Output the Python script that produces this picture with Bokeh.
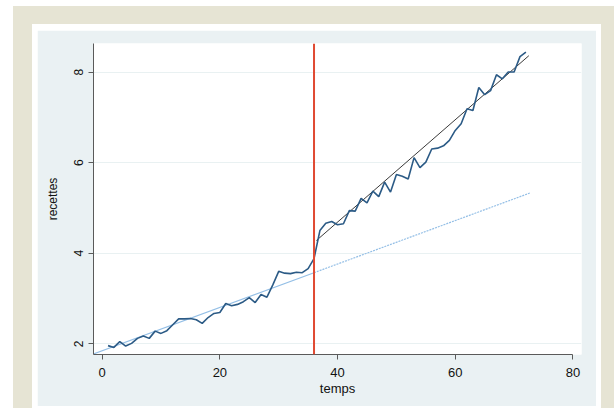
from bokeh.plotting import figure
from bokeh.models import Span, Range1d, FixedTicker
from bokeh.embed import file_html
from bokeh.resources import INLINE

# ---- data ----
temps = list(range(1, 73))
recettes = [1.96, 1.92, 2.05, 1.95, 2.01, 2.12, 2.17, 2.12, 2.28, 2.23, 2.29, 2.42,
            2.55, 2.55, 2.56, 2.53, 2.45, 2.58, 2.67, 2.69, 2.89, 2.84, 2.87, 2.93,
            3.02, 2.91, 3.09, 3.03, 3.30, 3.60, 3.56, 3.55, 3.58, 3.57, 3.66, 3.88,
            4.50, 4.66, 4.70, 4.63, 4.65, 4.94, 4.93, 5.21, 5.11, 5.37, 5.25, 5.57,
            5.35, 5.74, 5.70, 5.64, 6.11, 5.89, 6.01, 6.30, 6.32, 6.37, 6.49, 6.71,
            6.86, 7.19, 7.15, 7.66, 7.50, 7.59, 7.94, 7.85, 8.00, 8.00, 8.34, 8.44]

# linear trend of the pre-period (solid) and its extrapolation (dashed)
trend_pre_t = [-2.0, 36.0]
trend_pre_y = [1.75, 3.57]
trend_post_t = [36.0, 72.7]
trend_post_y = [3.57, 5.33]

# linear fit of the post-period
fit_post_t = [36.4, 72.5]
fit_post_y = [4.28, 8.36]

break_t = 36
x_ticks = [0, 20, 40, 60, 80]
y_ticks = [2, 4, 6, 8]

BEIGE = "#e6e4d4"
PANEL = "#eaf1f3"

p = figure(width=559, height=376, output_backend="svg", toolbar_location=None,
           x_range=Range1d(-1.47, 81.45), y_range=Range1d(1.764, 8.63),
           min_border_left=56, min_border_right=15, min_border_top=13,
           min_border_bottom=52)
p.margin = (30, 18, 2, 37)
p.styles = {"box-shadow": f"0 0 0 5px white, 0 -1px 0 5px white, 0 0 0 24px {BEIGE}"}
p.background_fill_color = "white"
p.border_fill_color = PANEL
p.outline_line_color = None

p.line(trend_pre_t, trend_pre_y, line_color="#94bfe6", line_width=1.2)
p.line(trend_post_t, trend_post_y, line_color="#94bfe6", line_width=1.2,
       line_dash="2 1")
p.line(fit_post_t, fit_post_y, line_color="#3a3a3a", line_width=1)
p.line(temps, recettes, line_color="#2c5b86", line_width=1.6)

p.add_layout(Span(location=break_t, dimension="height", line_color="#e04a32",
                  line_width=2))

# grid
p.xgrid.visible = False
p.ygrid.ticker = FixedTicker(ticks=y_ticks)
p.ygrid.grid_line_color = "#e9f1f2"
p.ygrid.grid_line_width = 1

# axes
for ax in (p.xaxis[0], p.yaxis[0]):
    ax.axis_line_color = "#5a5a5a"
    ax.major_tick_line_color = "#5a5a5a"
    ax.major_tick_out = 5
    ax.major_tick_in = 0
    ax.minor_tick_line_color = None
    ax.major_label_text_font = "Liberation Sans"
    ax.major_label_text_color = "#111111"
    ax.axis_label_text_font = "Liberation Sans"
    ax.axis_label_text_font_style = "normal"
    ax.axis_label_text_color = "#111111"

p.xaxis.ticker = FixedTicker(ticks=x_ticks)
p.xaxis.bounds = (-1.47, 80)
p.xaxis.axis_label = "temps"
p.xaxis.major_label_text_font_size = "13px"
p.xaxis.axis_label_text_font_size = "13px"
p.xaxis.major_label_standoff = 8
p.xaxis.axis_label_standoff = 1

p.yaxis.ticker = FixedTicker(ticks=y_ticks)
p.yaxis.axis_label = "recettes"
p.yaxis.major_label_orientation = "vertical"
p.yaxis.major_label_text_font_size = "12px"
p.yaxis.axis_label_text_font_size = "12px"
p.yaxis.major_label_standoff = 5
p.yaxis.axis_label_standoff = 12

open("out.html", "w").write(file_html(p, INLINE))
